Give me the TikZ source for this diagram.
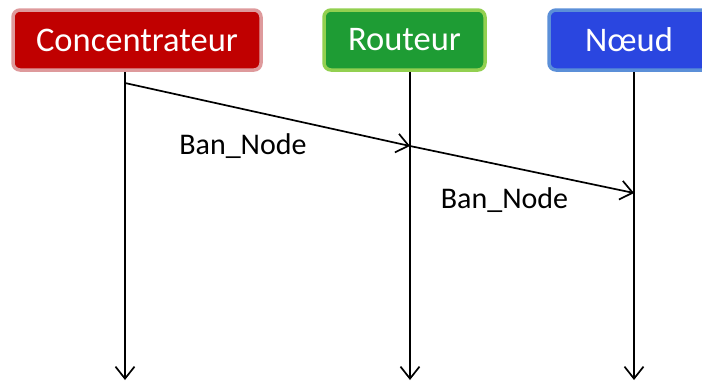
\documentclass[tikz,border=0pt]{standalone}
\usepackage{fontspec}
\setmainfont{Carlito}
\usepackage{xcolor}
\usetikzlibrary{arrows.meta}
\definecolor{concfill}{HTML}{C00000}
\definecolor{concedge}{HTML}{DE9A9C}
\definecolor{routfill}{HTML}{1E9C34}
\definecolor{routedge}{HTML}{92D050}
\definecolor{noeudfill}{HTML}{2A46E0}
\definecolor{noeudedge}{HTML}{5B8FD8}
\tikzset{
  actor/.style={rounded corners=7pt, line width=3.5pt, text=white,
    minimum height=60pt, inner sep=0pt,
    font=\fontsize{34.5}{38}\selectfont},
  life/.style={draw=black, line width=1.7pt,
    -{Straight Barb[length=12pt,width=19pt,line width=1.7pt]}},
  msg/.style={draw=black, line width=1.7pt,
    -{Straight Barb[length=12pt,width=19pt,line width=1.7pt]}},
  lab/.style={text=black, anchor=base, inner sep=0pt,
    font=\fontsize{30}{33}\selectfont},
}
\begin{document}
\begin{tikzpicture}[x=1pt,y=-1pt]
  \clip (0,0) rectangle (702,381);
  % participants
  \node[actor, fill=concfill, draw=concedge, minimum width=248pt] (conc) at (137,40) {Concentrateur};
  \node[actor, fill=routfill, draw=routedge, minimum width=161pt] (rout) at (404.5,40) {Routeur};
  \node[actor, fill=noeudfill, draw=noeudedge, minimum width=160pt] (noeud) at (629,40) {Nœud};
  % lifelines
  \coordinate (conc-end) at (125,380);
  \coordinate (rout-end) at (410,380);
  \coordinate (noeud-end) at (634,380);
  \draw[life] (conc.south -| conc-end) -- (conc-end);
  \draw[life] (rout.south -| rout-end) -- (rout-end);
  \draw[life] (noeud.south -| noeud-end) -- (noeud-end);
  % messages
  \coordinate (m1) at (125,83);
  \coordinate (m2) at (410,146);
  \coordinate (m3) at (634,193);
  \draw[msg] (m1) -- (m2);
  \draw[msg] (m2) -- (m3);
  \node[lab] (ban1) at (243,154) {Ban\_Node};
  \node[lab] (ban2) at (504.5,208) {Ban\_Node};
\end{tikzpicture}
\end{document}
